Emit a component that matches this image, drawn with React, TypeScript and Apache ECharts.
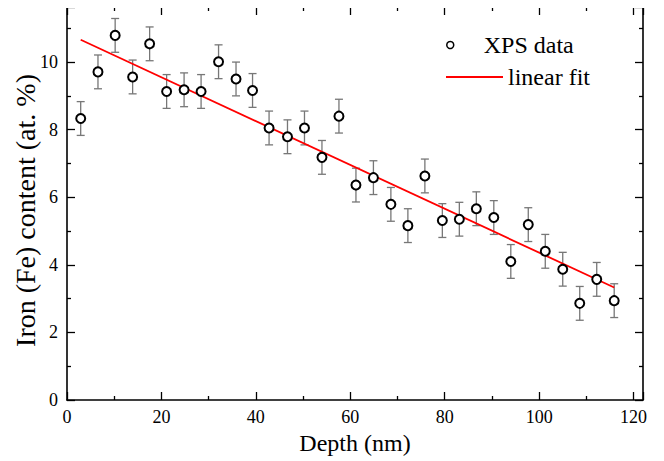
import React, { useEffect, useRef } from "react";
import * as echarts from "echarts";

const depth = [2.9, 6.56, 10.2, 13.9, 17.5, 21.1, 24.8, 28.4, 32.1, 35.8, 39.3, 42.8, 46.7, 50.3, 54.0, 57.6, 61.2, 64.9, 68.6, 72.2, 75.8, 79.5, 83.1, 86.7, 90.4, 94.0, 97.7, 101.3, 105.0, 108.6, 112.2, 115.9];
const feContent = [8.33, 9.71, 10.79, 9.56, 10.54, 9.13, 9.18, 9.13, 10.01, 9.5, 9.16, 8.05, 7.79, 8.05, 7.18, 8.4, 6.36, 6.58, 5.79, 5.16, 6.63, 5.31, 5.35, 5.66, 5.4, 4.1, 5.19, 4.4, 3.87, 2.86, 3.57, 2.94];
const feError = [0.5, 0.5, 0.5, 0.5, 0.5, 0.5, 0.5, 0.5, 0.5, 0.5, 0.5, 0.5, 0.5, 0.5, 0.5, 0.5, 0.5, 0.5, 0.5, 0.5, 0.5, 0.5, 0.5, 0.5, 0.5, 0.5, 0.5, 0.5, 0.5, 0.5, 0.5, 0.5];
const fitDepth = [2.9, 115.9];
const fitContent = [10.66, 3.33];

const FONT = "Liberation Serif";

export default function App() {
  const ref = useRef<HTMLDivElement>(null);
  useEffect(() => {
    if (!ref.current) return;
    const chart = echarts.init(ref.current, null, { renderer: "svg" });
    const scatterData = depth.map((d, i) => [d, feContent[i]]);
    const errData = depth.map((d, i) => [d, feContent[i], feError[i]]);
    const fitData = fitDepth.map((d, i) => [d, fitContent[i]]);
    const axisCommon = {
      axisLine: { show: true, onZero: false, lineStyle: { color: "#000", width: 1.6 } },
      axisTick: { show: true, inside: true, length: 8, lineStyle: { color: "#000", width: 1.3 } },
      minorTick: { show: true, splitNumber: 2, length: 4, lineStyle: { color: "#000", width: 1.3 } },
      splitLine: { show: false },
    };
    chart.setOption({
      animation: false,
      textStyle: { fontFamily: FONT },
      grid: { left: 67, right: 21, top: 7, bottom: 61 },
      legend: [
        {
          data: ["XPS data"],
          left: 446,
          top: 33,
          padding: 0,
          itemWidth: 57,
          itemHeight: 7,
          icon: "circle",
          itemStyle: { color: "#fff", borderColor: "#000", borderWidth: 1.5 },
          textStyle: { fontFamily: FONT, fontSize: 24, color: "#000" },
        },
        {
          data: [{ name: "linear fit", icon: "rect" }],
          left: 446,
          top: 65,
          padding: 0,
          itemWidth: 57,
          itemHeight: 2,
          itemStyle: { color: "#ff0000" },
          textStyle: { fontFamily: FONT, fontSize: 24, color: "#000" },
        },
      ],
      xAxis: [
        {
          type: "value",
          min: 0,
          max: 122,
          interval: 20,
          position: "bottom",
          name: "Depth (nm)",
          nameLocation: "middle",
          nameGap: 31,
          nameMoveOverlap: false,
          nameTextStyle: { fontFamily: FONT, fontSize: 24, color: "#000" },
          axisLabel: { fontFamily: FONT, fontSize: 18, color: "#000", margin: 8 },
          ...axisCommon,
        },
        {
          type: "value",
          min: 0,
          max: 122,
          interval: 20,
          position: "top",
          axisLabel: { show: false },
          ...axisCommon,
        },
      ],
      yAxis: [
        {
          type: "value",
          min: 0,
          max: 11.63,
          interval: 2,
          position: "left",
          name: "Iron (Fe) content (at. %)",
          nameLocation: "middle",
          nameGap: 28,
          nameMoveOverlap: false,
          nameTextStyle: { fontFamily: FONT, fontSize: 28, color: "#000", padding: [0, 14, 0, 0] },
          axisLabel: { fontFamily: FONT, fontSize: 18, color: "#000", margin: 9, showMaxLabel: false },
          ...axisCommon,
        },
        {
          type: "value",
          min: 0,
          max: 11.63,
          interval: 2,
          position: "right",
          axisLabel: { show: false },
          ...axisCommon,
        },
      ],
      series: [
        {
          type: "custom",
          name: "err",
          xAxisIndex: 0,
          yAxisIndex: 0,
          data: errData,
          encode: { x: 0, y: 1 },
          z: 1,
          silent: true,
          renderItem: (params: any, api: any) => {
            const x = api.value(0);
            const y = api.value(1);
            const e = api.value(2);
            const top = api.coord([x, y + e]);
            const bot = api.coord([x, y - e]);
            const hw = 4;
            const st = { stroke: "#777", lineWidth: 1.3 };
            return {
              type: "group",
              children: [
                { type: "line", shape: { x1: top[0], y1: top[1], x2: bot[0], y2: bot[1] }, style: st },
                { type: "line", shape: { x1: top[0] - hw, y1: top[1], x2: top[0] + hw, y2: top[1] }, style: st },
                { type: "line", shape: { x1: bot[0] - hw, y1: bot[1], x2: bot[0] + hw, y2: bot[1] }, style: st },
              ],
            };
          },
        },
        {
          type: "line",
          name: "linear fit",
          data: fitData,
          showSymbol: false,
          symbol: "none",
          z: 2,
          lineStyle: { color: "#ff0000", width: 1.8 },
          itemStyle: { color: "#ff0000" },
        },
        {
          type: "scatter",
          name: "XPS data",
          data: scatterData,
          symbol: "circle",
          symbolSize: 9,
          z: 3,
          itemStyle: { color: "#fff", borderColor: "#000", borderWidth: 2, opacity: 1 },
        },
      ],
    });
    return () => chart.dispose();
  }, []);
  return <div ref={ref} style={{ width: 664, height: 461, position: "relative", left: -8, top: -8 }} />;
}
